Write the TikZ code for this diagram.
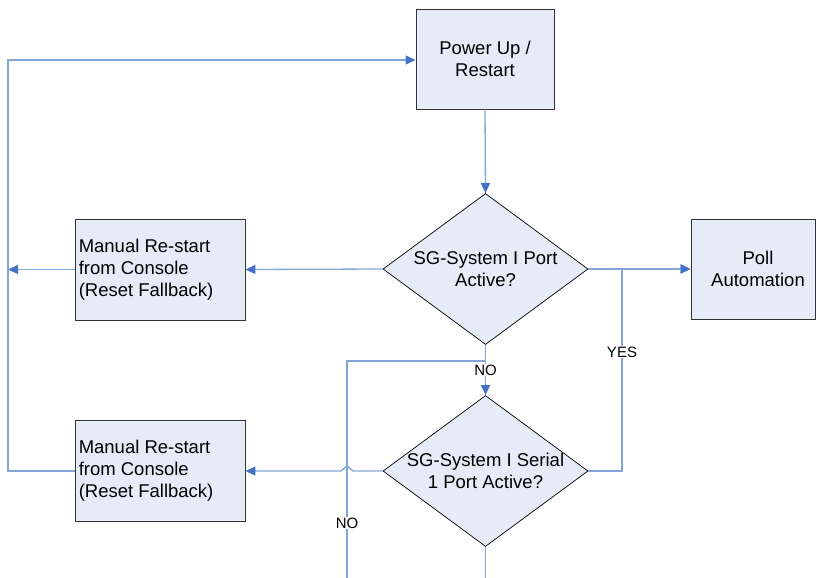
\documentclass[tikz,border=0pt]{standalone}
\usepackage{fontspec}
\setmainfont{Liberation Sans}
\usetikzlibrary{shapes.geometric,arrows.meta,calc}
\definecolor{boxfill}{RGB}{230,236,247}
\definecolor{linec}{RGB}{130,164,216}
\definecolor{arrowc}{RGB}{68,114,196}
\tikzset{
  box/.style={draw=black!80,line width=0.9pt,fill=boxfill,inner sep=0pt,font=\fontsize{18.5}{21.5}\selectfont},
  dec/.style={draw=black,line width=0.7pt,fill=boxfill,shape=diamond,aspect=1.36,inner sep=0pt,
    minimum width=205pt,minimum height=151pt},
  dtext/.style={align=center,inner sep=0pt,font=\fontsize{18.5}{21.5}\selectfont},
  mtext/.style={anchor=west,align=left,inner sep=0pt,font=\fontsize{18.5}{22}\selectfont},
  conn/.style={draw=linec,line width=1.3pt},
  arr/.style={conn,-{Triangle[length=10pt,width=9pt,fill=arrowc,color=arrowc]}},
  lbl/.style={fill=white,inner sep=1pt,font=\fontsize{15}{17}\selectfont}
}
\begin{document}
\begin{tikzpicture}[x=1pt,y=-1pt]
\useasboundingbox (0,0) rectangle (817,578);
% nodes
\node[box,minimum width=138pt,minimum height=100pt,align=center] (pu) at (485,59) {Power Up /\\Restart};
\node[dec] (d1) at (485.5,269) {};
\node[dtext] (d1t) at (d1.center) {SG-System I Port\\Active?};
\node[dec] (d2) at (485.5,471) {};
\node[dtext] (d2t) at (d2.center) {SG-System I Serial\\1 Port Active?};
\node[box,minimum width=170pt,minimum height=101pt] (m1) at (160,269.5) {};
\node[mtext] (m1t) at (m1.west) {\hspace{4pt}Manual Re-start\\\hspace{4pt}from Console\\\hspace{4pt}(Reset Fallback)};
\node[box,minimum width=170pt,minimum height=101pt] (m2) at (160,471) {};
\node[mtext] (m2t) at (m2.west) {\hspace{4pt}Manual Re-start\\\hspace{4pt}from Console\\\hspace{4pt}(Reset Fallback)};
\node[box,minimum width=124pt,minimum height=100pt] (pa) at (753,269) {};
\node[dtext] (pat) at ($(pa.center)+(5,0)$) {Poll\\Automation};
% helper coordinates
\coordinate (lx) at (8,60);
\coordinate (nb) at (485.5,361);
\coordinate (nx) at (347,361);
\coordinate (nbot) at (347,578);
\coordinate (dbot) at (485.5,578);
\coordinate (yx) at (622,471);
\coordinate (hop) at (347,471);
% connectors
\draw[arr] (pu.south) -- (d1.north);
\draw[arr] (d1.west) -- (m1.east);
\draw[arr] (m1.west) -- (m1.west -| lx);
\draw[arr] (m2.west) -- (m2.west -| lx) -- (lx) -- (lx -| pu.west);
\draw[arr] (d1.east) -- (pa.west);
\draw[arr] (d2.east) -- (yx) -- (yx |- pa.west) -- (pa.west);
\draw[arr] (d1.south) -- (d2.north);
\draw[conn] (nb) -- (nx) -- (nbot);
\draw[conn] (d2.south) -- (dbot);
\draw[arr] (d2.west) -- ($(hop)+(6,0)$) -- ($(hop)+(0,-5)$) -- ($(hop)+(-6,0)$) -- (m2.east);
% labels
\node[lbl] (no1) at (485.5,370) {NO};
\node[lbl] (no2) at (347,523) {NO};
\node[lbl] (yes) at (622,352) {YES};
\end{tikzpicture}
\end{document}
